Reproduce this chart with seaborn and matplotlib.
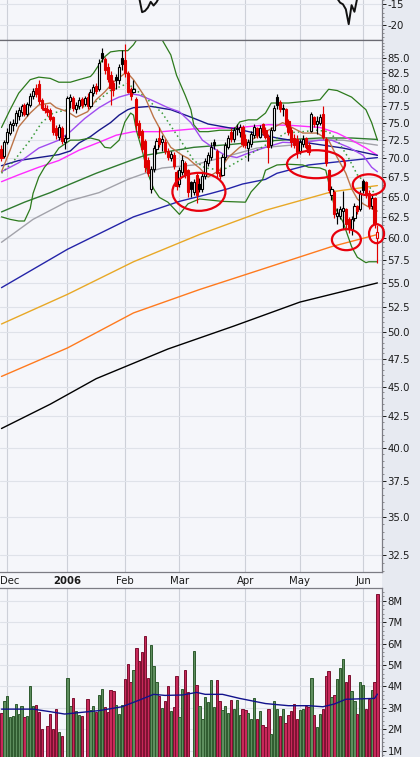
import numpy as np
import pandas as pd
import matplotlib
matplotlib.use("Agg")
import matplotlib.pyplot as plt
import matplotlib.ticker as mticker
import matplotlib.transforms as mtransforms
from matplotlib.patches import Ellipse, Rectangle
import seaborn as sns

# ---------------- data ----------------
opens = [71.2,70.3,72.3,73.5,74.6,74.9,76.0,76.5,77.6,76.3,
         77.6,78.9,80.2,80.8,78.3,77.2,77.0,76.8,75.8,74.2,
         73.0,74.2,72.2,72.8,78.2,78.6,77.0,77.4,78.5,77.7,
         78.8,77.5,79.4,80.5,80.0,85.8,84.8,83.6,82.2,80.9,
         82.0,81.4,85.0,84.6,82.5,80.0,79.6,78.5,75.0,73.8,
         72.4,69.8,66.0,68.5,71.2,72.8,72.2,72.2,71.0,70.0,
         70.5,68.2,66.6,68.2,69.4,68.4,66.8,65.6,67.8,66.6,
         66.0,67.6,69.4,70.2,72.2,71.0,68.2,67.8,70.2,71.6,
         73.6,72.6,74.2,73.6,74.4,72.6,71.4,72.0,73.2,74.2,
         73.0,74.8,74.0,73.0,71.8,74.0,78.8,78.0,77.0,77.0,
         75.2,74.0,72.8,72.6,71.0,72.0,72.8,71.8,73.8,75.8,
         74.8,75.0,76.2,72.6,68.4,65.2,65.6,62.6,62.6,63.2,
         63.4,62.2,61.0,62.4,63.8,63.4,67.0,66.8,65.4,63.8,
         64.8,60.0]
highs = [71.8,72.5,74.2,75.2,75.5,76.8,77.3,77.8,77.9,78.0,
         79.5,80.2,80.8,81.4,78.6,77.8,77.6,77.2,76.0,74.6,
         74.8,74.5,73.2,79.0,79.3,78.9,78.0,78.8,78.8,79.0,
         79.4,80.0,80.8,81.0,84.8,86.6,85.2,84.2,82.8,81.4,
         82.4,84.0,86.3,87.4,82.8,80.4,81.4,78.8,75.4,74.1,
         72.6,70.2,69.0,71.8,72.8,74.4,73.2,72.6,71.4,71.0,
         70.8,68.4,68.8,70.4,69.6,68.6,67.0,67.2,68.2,67.4,
         68.0,70.0,70.8,72.2,72.6,71.2,68.6,70.6,72.2,73.2,
         74.2,74.4,74.8,74.8,74.6,73.4,72.6,73.8,74.8,74.4,
         74.6,75.0,74.4,73.4,74.4,77.6,79.3,78.4,77.8,77.2,
         75.6,74.4,73.4,73.2,72.6,73.2,73.0,72.2,76.6,76.0,
         76.0,76.2,77.4,73.0,68.6,66.4,65.8,63.6,63.8,65.7,
         63.6,62.5,62.6,64.2,64.0,65.8,67.2,67.0,65.8,65.2,
         65.0,61.5]
lows = [69.6,70.0,72.0,73.2,73.8,74.5,75.4,76.0,75.9,76.0,
        77.3,78.5,78.8,77.8,76.8,76.4,76.0,75.3,73.2,72.6,
        72.5,72.0,71.2,72.6,77.2,76.7,76.4,77.0,77.2,77.5,
        77.0,77.2,79.0,79.3,79.8,84.4,82.4,81.2,77.6,79.0,
        80.0,80.8,83.0,82.0,79.4,78.4,79.4,74.0,72.8,70.8,
        68.2,67.6,65.4,68.2,70.6,71.6,71.0,70.6,69.8,69.6,
        68.6,65.8,66.2,67.8,67.4,65.0,64.9,65.2,64.2,65.6,
        65.6,67.2,69.0,69.8,71.2,67.4,67.2,67.6,69.8,71.2,
        72.2,72.2,73.2,73.0,71.6,71.4,69.6,71.6,72.8,72.8,
        72.8,73.2,72.6,69.4,71.4,73.8,77.0,76.6,76.0,74.4,
        73.2,71.6,71.4,70.0,70.6,71.6,71.2,70.4,73.6,74.4,
        73.4,74.6,72.6,69.0,65.4,64.6,62.4,61.6,62.2,61.0,
        61.2,60.6,60.4,62.0,62.8,63.2,65.4,64.8,63.4,63.4,
        61.2,57.2]
closes = [70.0,72.2,73.6,74.8,75.0,76.4,76.8,77.4,76.3,77.7,
          79.0,79.8,79.2,78.2,77.1,76.9,76.5,75.6,73.6,73.2,
          74.4,72.4,72.8,78.6,78.8,77.2,77.6,78.4,77.6,78.6,
          77.4,79.6,80.3,79.8,84.2,85.0,83.0,81.6,80.2,79.9,
          81.4,83.6,84.0,82.6,79.6,79.0,80.0,74.6,73.2,71.2,
          68.8,68.0,68.6,71.4,72.4,72.0,72.6,71.0,70.2,70.6,
          69.0,66.4,68.4,69.8,67.8,65.6,65.9,66.8,65.2,66.0,
          67.6,69.6,70.4,71.6,71.8,68.0,67.6,70.2,71.8,72.8,
          72.6,74.0,74.1,74.4,72.0,71.8,72.2,73.4,74.4,73.2,
          74.2,73.6,73.0,71.6,74.0,77.2,77.6,77.0,77.2,74.8,
          73.6,72.2,71.8,70.8,72.2,72.6,71.6,70.8,76.2,74.8,
          75.2,75.8,73.0,69.4,65.8,66.0,62.8,63.0,63.4,63.6,
          61.6,61.0,62.2,63.8,63.2,65.4,65.8,65.2,63.8,64.8,
          61.6,60.7]
prev_close_start = 71.4

volumes_m = [2.75,3.3,3.55,2.55,2.6,3.2,2.7,3.1,2.55,2.6,
             4.0,3.1,3.15,2.8,2.0,0.6,2.15,2.7,2.0,2.95,
             1.85,1.7,0.6,4.4,3.1,3.45,2.85,2.65,2.6,0.6,
             3.4,2.9,3.1,2.8,3.6,3.9,3.05,2.8,3.85,3.8,
             3.15,2.7,3.15,4.35,5.05,4.2,4.75,5.8,5.2,5.6,
             6.35,4.4,5.95,4.95,4.2,3.55,3.0,3.3,4.0,2.85,
             3.05,4.5,2.55,3.9,4.75,3.75,0.6,5.65,4.05,3.1,
             2.5,3.5,3.25,4.3,3.05,4.3,3.3,2.9,3.1,2.75,
             3.35,2.95,3.35,2.65,2.95,2.9,2.75,2.5,3.45,2.5,
             2.85,2.2,2.1,2.95,1.8,3.3,2.95,2.6,2.95,2.3,
             2.65,2.85,3.2,2.5,2.9,2.95,3.1,3.05,4.4,2.65,
             2.1,2.7,2.95,4.5,4.7,3.5,3.6,4.35,4.85,5.3,
             4.2,4.55,3.8,3.3,2.7,4.2,4.05,2.95,3.4,3.85,
             4.2,8.3]

month_days = [2, 23, 43, 62, 85, 104, 126]
month_labels = ["Dec", "2006", "Feb", "Mar", "Apr", "May", "Jun"]
price_ticks = [32.5, 35.0, 37.5, 40.0, 42.5, 45.0, 47.5, 50.0, 52.5, 55.0, 57.5,
               60.0, 62.5, 65.0, 67.5, 70.0, 72.5, 75.0, 77.5, 80.0, 82.5, 85.0]
vol_ticks = [1, 2, 3, 4, 5, 6, 7, 8]
osc_ticks = [-20, -15]

# moving averages / bands, sampled along the chart
brown_days = [0,3,6,10,13,17,19,23,26,30,33,36,39,43,44,46,50,53,56,59,63,65,67,69,72,76,79,83,89,93,98,105,110,114,117,120,122,124,126,129,131]
brown_vals = [68.2,71.1,74.4,76.4,77.6,77.9,77.2,76.6,75.8,76.6,78.4,79.6,81.1,82.5,82.5,81.5,78.8,75.8,73.5,71.5,70.4,70.0,69.3,68.7,67.5,68.4,70.1,71.5,73.0,73.9,75.0,73.5,73.5,72.5,70.1,68.0,66.0,64.7,64.1,63.5,63.2]
dotted_days = [0,4,10,14,18,23,27,31,34,38,44,50,56,60,64,67,71,77,83,89,95,99,105,110,114,117,121,124,128,131]
dotted_vals = [68.0,69.5,72.5,75.0,76.4,76.9,77.2,77.6,78.4,79.8,80.9,78.8,76.4,73.9,71.5,69.7,68.7,68.4,69.7,71.1,72.5,73.5,73.7,73.9,73.7,72.5,70.0,67.8,66.3,65.0]
purple_days = [0,6,13,20,24,29,34,38,41,45,48,52,58,62,66,70,75,78,82,86,92,98,104,111,115,121,126,129,131]
purple_vals = [68.2,69.4,71.4,72.5,73.7,75.6,77.2,78.2,78.8,79.3,79.1,78.4,77.2,76.6,75.0,72.5,71.1,70.4,70.1,70.7,71.5,72.2,72.1,72.5,72.5,71.5,70.4,68.8,68.2]
navy_days = [0,6,13,20,24,27,31,34,38,41,44,46,52,59,66,72,84,96,107,119,131]
navy_vals = [69.0,69.7,70.1,70.5,71.0,72.1,73.0,73.9,75.0,76.1,76.9,77.2,77.4,76.9,75.8,74.8,73.9,72.8,72.1,71.4,70.4]
magenta_days = [0,6,13,20,27,34,40,46,56,67,83,93,101,111,117,122,127,131]
magenta_vals = [66.9,67.8,68.8,69.7,71.1,72.2,73.2,73.7,73.7,74.1,74.3,74.7,74.6,74.3,73.5,72.5,71.4,70.4]
dkgreen_days = [0,8,17,24,33,45,50,67,80,90,101,111,122,131]
dkgreen_vals = [63.1,64.3,65.5,66.6,68.0,69.7,70.4,71.5,71.9,72.3,72.6,72.8,72.8,72.6]
gray_days = [0,11,23,34,44,50,56,67,77,89,101,107,119,131]
gray_vals = [59.5,62.2,64.4,65.5,67.2,68.0,68.7,69.1,70.1,71.4,71.8,72.5,72.5,71.8]
blue_days = [0,23,46,62,73,79,84,92,96,107,119,131]
blue_vals = [54.5,58.7,62.5,64.4,65.4,66.0,66.6,67.2,68.0,69.1,69.6,70.1]
gold_days = [0,23,46,69,92,115,131]
gold_vals = [50.8,53.8,57.3,60.4,63.3,65.6,66.4]
orange_days = [0,23,46,69,92,115,131]
orange_vals = [45.9,48.5,51.9,54.3,56.6,59.0,60.4]
black_days = [0,17,33,58,81,104,131]
black_vals = [41.5,43.5,45.7,48.4,50.6,53.0,55.0]
upper_days = [0,3,6,10,13,17,20,24,27,31,32,34,36,38,41,44,46,48,50,53,55,56,59,61,64,66,67,69,72,76,81,83,86,89,92,94,100,107,111,114,117,122,127,129,131]
upper_vals = [74.3,76.9,79.4,81.5,81.9,81.7,81.1,81.1,81.5,82.0,82.5,83.9,85.2,86.0,86.2,86.2,87.2,88.7,89.8,90.2,89.2,88.0,85.5,82.2,79.1,76.9,74.7,73.7,73.7,73.9,73.9,75.1,75.4,75.4,76.4,77.9,77.9,78.2,78.4,80.0,79.8,78.8,76.9,75.0,72.5]
lower_days = [0,3,6,8,10,11,13,15,17,20,24,27,31,34,36,38,41,43,45,46,47,49,51,53,55,58,62,65,69,77,85,87,91,92,96,100,105,107,111,113,116,119,122,124,127,128,131]
lower_vals = [62.5,62.2,62.0,62.0,63.5,65.4,67.5,68.8,69.7,71.4,72.5,72.5,72.8,72.5,71.5,71.4,72.5,75.1,76.4,76.1,73.9,71.1,68.0,66.0,64.9,64.3,62.8,64.1,64.7,64.4,64.3,65.6,67.2,68.4,69.1,69.2,69.1,68.8,68.7,68.4,63.8,61.9,59.0,57.8,57.2,57.3,57.3]
vma_days = [0,11,17,22,28,34,42,48,53,57,63,68,71,77,83,92,100,107,112,116,120,130,131]
vma_vals = [2.94,2.94,2.82,2.71,2.79,2.87,3.05,3.36,3.63,3.58,3.6,3.72,3.63,3.63,3.44,3.2,3.1,3.1,3.05,3.18,3.4,3.44,3.64]
osc1_days = [48,49,50,51,52,53,54,55]
osc1_vals = [-13.5,-16.9,-16.6,-15.8,-14.4,-15.3,-14.5,-13.3]
osc2_days = [117,118,119,120,121,122,123,124]
osc2_vals = [-13.6,-14.6,-15.0,-16.2,-19.8,-15.2,-16.8,-13.4]

# hand-drawn red ellipses (day, price, width px, height px)
circle_days = [68.8, 109.6, 128.0, 120.2, 130.7]
circle_prices = [65.6, 69.2, 66.5, 59.8, 60.5]
circle_w = [53, 58, 32, 29, 15]
circle_h = [38, 28, 21, 21, 19]

# ---------------- figure ----------------
sns.set_theme(style="white")
plt.rcParams['font.family'] = ['DejaVu Sans']

n = len(closes)
df = pd.DataFrame({"day": np.arange(n), "open": opens, "high": highs,
                   "low": lows, "close": closes, "volume": volumes_m})
prev = np.concatenate([[prev_close_start], df["close"].values[:-1]])
df["up"] = df["close"].values >= prev

PANEL = "#f5f6fa"
fig = plt.figure(figsize=(4.2, 7.57), dpi=100, facecolor="#e7eaf1")
fw = 382 / 420
ax_top = fig.add_axes([0, 1 - 40 / 757, fw, 40 / 757], facecolor=PANEL)
ax_main = fig.add_axes([0, 1 - 572 / 757, fw, 532 / 757], facecolor=PANEL)
ax_vol = fig.add_axes([0, 0, fw, 169 / 757], facecolor=PANEL)
fig.patches.append(Rectangle((0, 169 / 757), fw, 16 / 757, transform=fig.transFigure,
                             facecolor=PANEL, edgecolor="none", zorder=-1))

XL = (-0.52, 132.6)
for ax in (ax_top, ax_main, ax_vol):
    ax.set_xlim(*XL)
    ax.yaxis.tick_right()
    ax.set_xticks(month_days)
    ax.tick_params(axis='y', which='major', direction='out', length=3, width=0.7,
                   pad=1, labelsize=7.3, colors='#1a1a1a')
    ax.tick_params(axis='y', which='minor', direction='out', length=1.5, width=0.5,
                   colors='#666666')
    ax.grid(True, axis='x', color='#cdd0d8', lw=0.8)
    ax.grid(True, axis='y', which='major', color='#dfe2e9', lw=0.8)
    ax.set_axisbelow(True)
    ax.spines['left'].set_visible(False)
    for s in ("right", "top", "bottom"):
        ax.spines[s].set_color('#7c7c84')
        ax.spines[s].set_linewidth(0.9)
    ax.set_xlabel(""); ax.set_ylabel("")

# ---- main price panel ----
ax_main.set_yscale('log')
ax_main.set_ylim(31.44, 88.0)
ax_main.yaxis.set_major_locator(mticker.FixedLocator(price_ticks))
ax_main.yaxis.set_major_formatter(mticker.FixedFormatter([f"{t:.1f}" for t in price_ticks]))
ax_main.yaxis.set_minor_locator(mticker.FixedLocator(np.arange(31.5, 88.0, 0.5)))
ax_main.yaxis.set_minor_formatter(mticker.NullFormatter())
ax_main.set_xticklabels(month_labels)
ax_main.tick_params(axis='x', length=0, pad=3, labelsize=7.3, colors='#1a1a1a')
xl = ax_main.get_xticklabels()
xl[1].set_fontweight('bold')
xl[0].set_transform(xl[0].get_transform() +
                    mtransforms.ScaledTranslation(2.5 / 100, 0, fig.dpi_scale_trans))
ax_main.spines['top'].set_color('#6a6a72')

def draw_line(ax, d, v, color, lw=0.9, ls='-', z=2):
    sns.lineplot(x=d, y=v, ax=ax, color=color, linewidth=lw, linestyle=ls,
                 legend=False, estimator=None, zorder=z)

draw_line(ax_main, black_days, black_vals, '#000000', 1.0)
draw_line(ax_main, orange_days, orange_vals, '#ff7a1e', 1.0)
draw_line(ax_main, gold_days, gold_vals, '#e8a826', 1.0)
draw_line(ax_main, blue_days, blue_vals, '#2424a8', 1.0)
draw_line(ax_main, gray_days, gray_vals, '#a2a2aa', 1.0)
draw_line(ax_main, dkgreen_days, dkgreen_vals, '#2f7a2f', 1.0)
draw_line(ax_main, magenta_days, magenta_vals, '#ff2cff', 1.0)
draw_line(ax_main, navy_days, navy_vals, '#18188a', 1.0)
draw_line(ax_main, purple_days, purple_vals, '#a04cf0', 1.0)
draw_line(ax_main, upper_days, upper_vals, '#2c7a1c', 0.9)
draw_line(ax_main, lower_days, lower_vals, '#2c7a1c', 0.9)
draw_line(ax_main, dotted_days, dotted_vals, '#3a9a3a', 1.1, (0, (1, 2)))
draw_line(ax_main, brown_days, brown_vals, '#bc7448', 1.0)

# candlesticks
edge = np.where(df["up"], '#000000', '#e00000')
filled = df["close"].values < df["open"].values
face = np.where(filled, edge, '#ffffff')
body_lo = np.minimum(df["open"], df["close"]).values
body_h = np.maximum(np.abs(df["close"] - df["open"]).values, 0.08)
ax_main.vlines(df["day"], df["low"], df["high"], colors=edge, lw=0.85, zorder=3)
ax_main.bar(df["day"], body_h, bottom=body_lo, width=0.74, color=face,
            edgecolor=edge, linewidth=0.8, zorder=4)

# red ellipses
for d, p, w, h in zip(circle_days, circle_prices, circle_w, circle_h):
    tr = fig.dpi_scale_trans + mtransforms.ScaledTranslation(d, p, ax_main.transData)
    e = Ellipse((0, 0), w / 100, h / 100, transform=tr, fill=False,
                edgecolor='#e8000c', lw=1.6, zorder=6, clip_on=False)
    ax_main.add_artist(e)

# ---- top oscillator panel ----
ax_top.set_ylim(-23.62, -13.96)
ax_top.yaxis.set_major_locator(mticker.FixedLocator(osc_ticks))
ax_top.yaxis.set_major_formatter(mticker.FixedFormatter([f"{t}" for t in osc_ticks]))
ax_top.yaxis.set_minor_locator(mticker.FixedLocator(np.arange(-23, -13.5, 1.0)))
ax_top.tick_params(axis='x', length=0, labelbottom=False)
ax_top.spines['top'].set_visible(False)
ax_top.spines['bottom'].set_color('#6a6a72')
draw_line(ax_top, osc1_days, osc1_vals, '#111111', 1.4)
draw_line(ax_top, osc2_days, osc2_vals, '#111111', 1.4)

# ---- volume panel ----
ax_vol.set_ylim(0.706, 8.592)
ax_vol.yaxis.set_major_locator(mticker.FixedLocator(vol_ticks))
ax_vol.yaxis.set_major_formatter(mticker.FixedFormatter([f"{t}M" for t in vol_ticks]))
ax_vol.yaxis.set_minor_locator(mticker.FixedLocator(np.arange(0.8, 8.6, 0.2)))
ax_vol.tick_params(axis='x', length=0, labelbottom=False)
ax_vol.spines['bottom'].set_visible(False)
vface = np.where(df["up"], '#5e8e5e', '#c8285a')
vedge = np.where(df["up"], '#2e5a2e', '#7c1030')
ax_vol.bar(df["day"], df["volume"], width=0.8, color=vface, edgecolor=vedge,
           linewidth=0.7, zorder=2)
draw_line(ax_vol, vma_days, vma_vals, '#12128c', 1.0, z=3)

fig.savefig("out.png", dpi=100, facecolor=fig.get_facecolor())
